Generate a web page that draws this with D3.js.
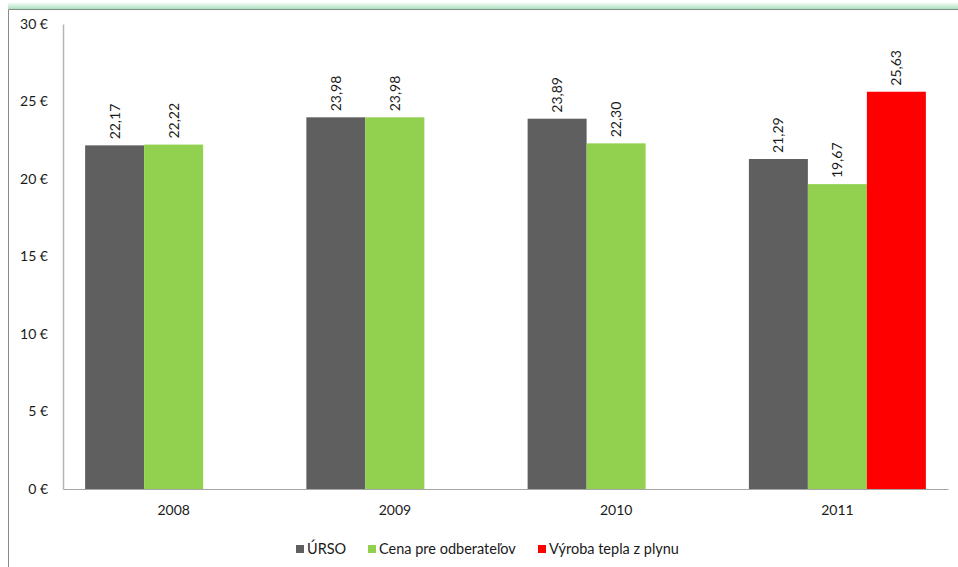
<!DOCTYPE html>
<html>
<head>
<meta charset="utf-8">
<script src="https://cdn.jsdelivr.net/npm/d3@7"></script>
<style>
  body { margin: 0; background: #fff; }
  svg text { font-family: Lato, "Open Sans", sans-serif; fill: #1a1a1a; }
</style>
</head>
<body>
<svg id="chart" width="958" height="567"></svg>
<script>
// data
var years = ["2008", "2009", "2010", "2011"];
var seriesNames = ["ÚRSO", "Cena pre odberateľov", "Výroba tepla z plynu"];
var seriesColors = ["#5f5f5f", "#92d050", "#ff0000"];
var urso = [22.17, 23.98, 23.89, 21.29];
var cena = [22.22, 23.98, 22.30, 19.67];
var vyroba = [null, null, null, 25.63];
var yTicks = [0, 5, 10, 15, 20, 25, 30];

var values = [urso, cena, vyroba];

var svg = d3.select("#chart");

// outer frame with greenish top glow
var glow = svg.append("defs").append("linearGradient")
  .attr("id", "glow").attr("x1", 0).attr("x2", 0).attr("y1", 0).attr("y2", 1);
glow.append("stop").attr("offset", "0%").attr("stop-color", "#fff");
glow.append("stop").attr("offset", "100%").attr("stop-color", "#a8e0bd");
svg.append("rect").attr("x", 8).attr("y", 2).attr("width", 960).attr("height", 7)
  .attr("fill", "url(#glow)");
svg.append("path").attr("d", "M8.5,580 V9.5 H970")
  .attr("fill", "none").attr("stroke", "#8a8a8a").attr("stroke-width", 1);

var x0 = d3.scaleBand().domain(years).range([63, 948]).paddingInner(0.2).paddingOuter(0.1);
var x1 = d3.scaleBand().domain(d3.range(3)).range([0, x0.bandwidth()]);
var y = d3.scaleLinear().domain([0, 30]).range([489, 24]);

// y axis
var yAxis = svg.append("g").attr("transform", "translate(63,0)")
  .call(d3.axisLeft(y).tickValues(yTicks).tickSize(0).tickPadding(15)
    .tickFormat(function(d) { return d + " €"; }));
yAxis.select(".domain").attr("stroke", "#b5b5b5").attr("stroke-width", 1.5);
yAxis.selectAll("text").style("font-size", "14px");

// bars
var groups = svg.append("g").selectAll("g").data(years).join("g")
  .attr("transform", function(d) { return "translate(" + x0(d) + ",0)"; });

groups.each(function(yr, i) {
  var g = d3.select(this);
  var items = values.map(function(s, k) { return { k: k, v: s[i] }; })
    .filter(function(d) { return d.v != null; });
  g.selectAll("rect").data(items).join("rect")
    .attr("x", function(d) { return x1(d.k); })
    .attr("width", x1.bandwidth())
    .attr("y", function(d) { return y(d.v); })
    .attr("height", function(d) { return y(0) - y(d.v); })
    .attr("fill", function(d) { return seriesColors[d.k]; });
  g.selectAll("text").data(items).join("text")
    .attr("transform", function(d) {
      return "translate(" + (x1(d.k) + x1.bandwidth() / 2 + 5) + "," + (y(d.v) - 6) + ") rotate(-90)";
    })
    .style("font-size", "14px")
    .text(function(d) { return d.v.toFixed(2).replace(".", ","); });
});

// x axis
var xAxis = svg.append("g").attr("transform", "translate(0,489)")
  .call(d3.axisBottom(x0).tickSize(0).tickPadding(16).tickSizeOuter(0));
xAxis.select(".domain").attr("stroke", "#a6a6a6").attr("stroke-width", 1.2);
xAxis.selectAll("text").style("font-size", "14px");

// legend
var legendX = [296, 368, 538];
var legend = svg.append("g").selectAll("g").data(seriesNames).join("g")
  .attr("transform", function(d, i) { return "translate(" + legendX[i] + ",549)"; });
legend.append("rect").attr("x", 0).attr("y", -4).attr("width", 8).attr("height", 8)
  .attr("fill", function(d, i) { return seriesColors[i]; });
legend.append("text").attr("x", 11).attr("y", 5).style("font-size", "14.5px")
  .text(function(d) { return d; });
</script>
</body>
</html>
